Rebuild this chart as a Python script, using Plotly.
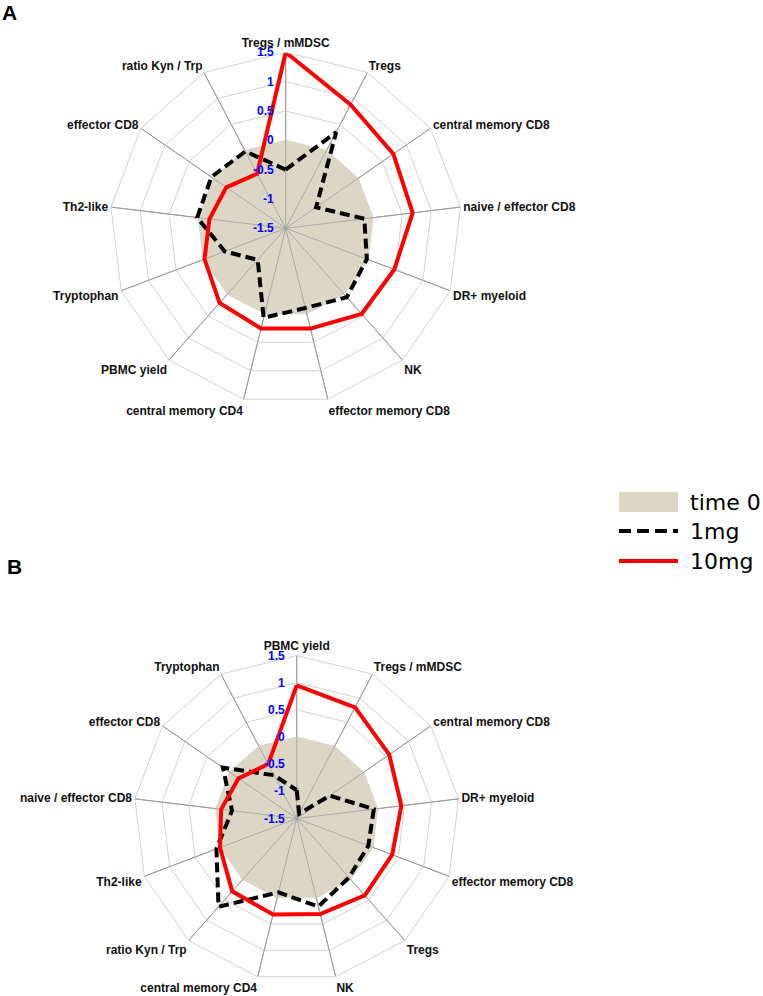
import plotly.graph_objects as go

# ---------------- data ----------------
cats_a = ["Tregs / mMDSC", "Tregs", "central memory CD8", "naive / effector CD8",
          "DR+ myeloid", "NK", "effector memory CD8", "central memory CD4",
          "PBMC yield", "Tryptophan", "Th2-like", "effector CD8", "ratio Kyn / Trp"]
time0_a = [0, 0, 0, 0, 0, 0, 0, 0, 0, 0, 0, 0, 0]
mg1_a = [-0.5, 0.35, -0.87, -0.15, -0.02, 0.07, -0.1, 0.07, -0.78, -0.39, 0.02, 0.04, -0.02]
mg10_a = [1.5, 0.88, 0.73, 0.68, 0.48, 0.45, 0.26, 0.26, 0.2, -0.02, -0.19, -0.27, -0.45]

cats_b = ["PBMC yield", "Tregs / mMDSC", "central memory CD8", "DR+ myeloid",
          "effector memory CD8", "Tregs", "NK", "central memory CD4",
          "ratio Kyn / Trp", "Th2-like", "naive / effector CD8", "effector CD8", "Tryptophan"]
time0_b = [0, 0, 0, 0, 0, 0, 0, 0, 0, 0, 0, 0, 0]
mg1_b = [-0.98, -1.4, -0.76, -0.07, -0.09, -0.05, 0.17, -0.1, 0.67, 0.08, -0.3, 0.15, -0.6]
mg10_b = [0.95, 0.81, 0.57, 0.44, 0.38, 0.39, 0.31, 0.32, 0.29, 0.01, -0.1, -0.2, -0.37]

r_ticks = [-1.5, -1, -0.5, 0, 0.5, 1, 1.5]
r_ticktext = ["-1.5", "-1", "-0.5", "0", "0.5", "1", "1.5"]
r_range = [-1.5, 1.5]

series_names = ["time 0", "1mg", "10mg"]

# ---------------- style ----------------
FILL = "#DCD7C5"
RED = "#FF0000"
BLACK = "#000000"
SPOKE = "#9a9a9a"
RING = "#d2d2d2"
TICKBLUE = "#0000FF"
FONT = "Arial, Liberation Sans, sans-serif"
LEGFONT = "DejaVu Sans, Arial, sans-serif"
W, H = 763, 996

# subplot geometry (page pixels): centre x, centre y, outer radius
GEO_A = (285.7, 228.3, 176)
GEO_B = (296.7, 818.5, 163)

fig = go.Figure()


def closed(v):
    return list(v) + [v[0]]


def px(x):
    return x / W


def py(y):
    return 1 - y / H


def add_radar(sub, cats, t0, m1, m10):
    fig.add_trace(go.Scatterpolar(
        r=closed(t0), theta=closed(cats), subplot=sub, mode="lines",
        fill="toself", fillcolor=FILL, line=dict(width=0, color=FILL),
        showlegend=False, hoverinfo="skip", name=series_names[0]))
    # spokes drawn over the fill (as in the reference)
    sr, st = [], []
    for c in cats:
        sr += [r_range[0], r_range[1], None]
        st += [c, c, c]
    fig.add_trace(go.Scatterpolar(
        r=sr, theta=st, subplot=sub, mode="lines",
        line=dict(width=0.8, color=SPOKE), showlegend=False,
        hoverinfo="skip", connectgaps=False))
    fig.add_trace(go.Scatterpolar(
        r=closed(m1), theta=closed(cats), subplot=sub, mode="lines",
        line=dict(width=4, color=BLACK, dash="10px,5px"),
        showlegend=False, name=series_names[1]))
    fig.add_trace(go.Scatterpolar(
        r=closed(m10), theta=closed(cats), subplot=sub, mode="lines",
        line=dict(width=4, color=RED), showlegend=False, name=series_names[2]))


def add_radial_labels(geo):
    cx, cy, rad = geo
    span = r_range[1] - r_range[0]
    for v, t in zip(r_ticks, r_ticktext):
        yy = cy - (v - r_range[0]) / span * rad
        fig.add_annotation(x=px(cx - 10), y=py(yy), xref="paper", yref="paper",
                           text=t, showarrow=False, xanchor="right", yanchor="middle",
                           font=dict(family=FONT, size=12, color=TICKBLUE, weight="bold"))


add_radar("polar", cats_a, time0_a, mg1_a, mg10_a)
add_radar("polar2", cats_b, time0_b, mg1_b, mg10_b)
add_radial_labels(GEO_A)
add_radial_labels(GEO_B)


def polar_layout(geo, cats):
    cx, cy, rad = geo
    return dict(
        domain=dict(x=[px(cx - rad), px(cx + rad)],
                    y=[py(cy + rad), py(cy - rad)]),
        gridshape="linear",
        bgcolor="white",
        angularaxis=dict(
            categoryorder="array", categoryarray=cats,
            rotation=90, direction="clockwise",
            showgrid=True, gridcolor=SPOKE, gridwidth=0.8,
            showline=True, linecolor=RING, linewidth=1,
            ticks="", tickfont=dict(family=FONT, size=12, color="#111111", weight="bold"),
        ),
        radialaxis=dict(
            range=r_range, tickvals=r_ticks, angle=90,
            showticklabels=False, showline=False, ticks="",
            showgrid=True, gridcolor=RING, gridwidth=1,
        ),
    )


fig.update_layout(
    width=W, height=H,
    margin=dict(l=0, r=0, t=0, b=0),
    paper_bgcolor="white",
    showlegend=False,
    polar=polar_layout(GEO_A, cats_a),
    polar2=polar_layout(GEO_B, cats_b),
)

# panel letters
fig.add_annotation(x=px(0), y=py(12), xref="paper", yref="paper", text="<b>A</b>",
                   showarrow=False, xanchor="left", yanchor="middle",
                   font=dict(family=FONT, size=21, color="black"))
fig.add_annotation(x=px(5), y=py(566), xref="paper", yref="paper", text="<b>B</b>",
                   showarrow=False, xanchor="left", yanchor="middle",
                   font=dict(family=FONT, size=21, color="black"))

# legend (drawn manually to match the wide swatches)
leg_x0, leg_x1, leg_tx = 619, 678, 688
leg_y = [502, 531, 561]
fig.add_shape(type="rect", xref="paper", yref="paper",
              x0=px(leg_x0), x1=px(leg_x1), y0=py(512), y1=py(492),
              fillcolor=FILL, line=dict(width=0))
fig.add_shape(type="line", xref="paper", yref="paper",
              x0=px(leg_x0), x1=px(leg_x1), y0=py(leg_y[1]), y1=py(leg_y[1]),
              line=dict(color=BLACK, width=4, dash="12px,6px"))
fig.add_shape(type="line", xref="paper", yref="paper",
              x0=px(leg_x0), x1=px(leg_x1), y0=py(leg_y[2]), y1=py(leg_y[2]),
              line=dict(color=RED, width=4))
for name, yy in zip(series_names, leg_y):
    fig.add_annotation(x=px(leg_tx), y=py(yy), xref="paper", yref="paper",
                       text=name, showarrow=False, xanchor="left", yanchor="middle",
                       font=dict(family=LEGFONT, size=22, color="black"))

fig.write_html("out.html", config={"displayModeBar": False},
               post_script="document.body.style.margin='0px';")
